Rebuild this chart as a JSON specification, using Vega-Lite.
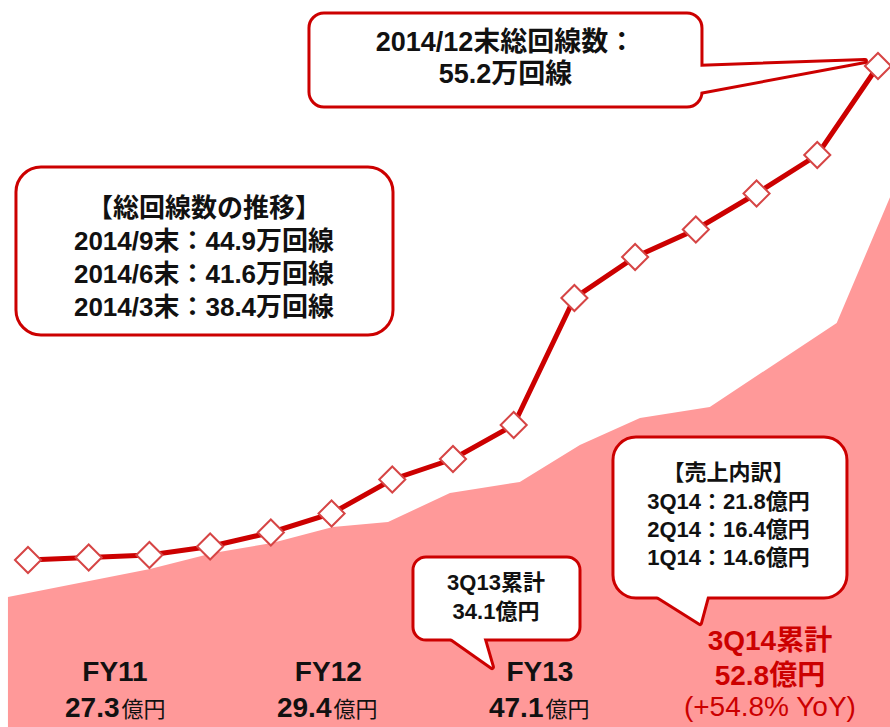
{
  "$schema": "https://vega.github.io/schema/vega-lite/v6.json",
  "width": 890,
  "height": 727,
  "autosize": {"type": "none"},
  "padding": 0,
  "background": "white",
  "config": {"view": {"stroke": null}, "text": {"font": "Liberation Sans, Noto Sans CJK JP"}},
  "datasets": {
    "lines": [
      {"x": 0, "y": 16.7}, {"x": 1, "y": 16.95}, {"x": 2, "y": 17.2}, {"x": 3, "y": 18.05},
      {"x": 4, "y": 19.45}, {"x": 5, "y": 21.35}, {"x": 6, "y": 24.75}, {"x": 7, "y": 26.8},
      {"x": 8, "y": 30.2}, {"x": 9, "y": 42.9}, {"x": 10, "y": 47.0}, {"x": 11, "y": 49.75},
      {"x": 12, "y": 53.35}, {"x": 13, "y": 57.2}, {"x": 14, "y": 66.1}
    ],
    "area": [
      {"x": -0.33, "y": 13.0}, {"x": 2.01, "y": 15.8}, {"x": 3.05, "y": 17.4}, {"x": 4.02, "y": 18.4},
      {"x": 5.02, "y": 20.0}, {"x": 5.93, "y": 20.5}, {"x": 6.95, "y": 23.4}, {"x": 8.10, "y": 24.5},
      {"x": 9.09, "y": 28.2}, {"x": 10.08, "y": 30.9}, {"x": 11.23, "y": 32.0}, {"x": 13.32, "y": 40.4},
      {"x": 14.2, "y": 53.0}
    ],
    "boxes": [
      {"box": "top", "x": 4.628, "x2": 11.101, "y": 71.4, "y2": 62.0},
      {"box": "left", "x": -0.198, "x2": 6.012, "y": 56.0, "y2": 39.2},
      {"box": "q13", "x": 6.341, "x2": 9.092, "y": 17.0, "y2": 8.7},
      {"box": "uri", "x": 9.635, "x2": 13.489, "y": 29.0, "y2": 12.9}
    ],
    "tails": [
      {"tail": "top", "ord": 1, "x": 10.97, "y": 66.0},
      {"tail": "top", "ord": 2, "x": 13.786, "y": 66.6},
      {"tail": "top", "ord": 3, "x": 10.97, "y": 63.4},
      {"tail": "q13", "ord": 1, "x": 6.80, "y": 9.6},
      {"tail": "q13", "ord": 2, "x": 7.642, "y": 6.0},
      {"tail": "q13", "ord": 3, "x": 7.47, "y": 9.6},
      {"tail": "uri", "ord": 1, "x": 10.23, "y": 13.6},
      {"tail": "uri", "ord": 2, "x": 11.068, "y": 10.4},
      {"tail": "uri", "ord": 3, "x": 11.21, "y": 13.6}
    ],
    "labels": [
      {"grp": "top", "x": 7.865, "y": 68.4, "text": "2014/12末総回線数："},
      {"grp": "top", "x": 7.865, "y": 65.2, "text": "55.2万回線"},
      {"grp": "left", "x": 2.899, "y": 51.8, "text": "【総回線数の推移】"},
      {"grp": "left", "x": 2.899, "y": 48.53, "text": "2014/9末：44.9万回線"},
      {"grp": "left", "x": 2.899, "y": 45.2, "text": "2014/6末：41.6万回線"},
      {"grp": "left", "x": 2.899, "y": 41.87, "text": "2014/3末：38.4万回線"},
      {"grp": "small", "x": 7.708, "y": 14.37, "text": "3Q13累計"},
      {"grp": "small", "x": 7.708, "y": 11.53, "text": "34.1億円"},
      {"grp": "small", "x": 11.538, "y": 25.37, "text": "【売上内訳】"},
      {"grp": "small", "x": 11.538, "y": 22.53, "text": "3Q14：21.8億円"},
      {"grp": "small", "x": 11.538, "y": 19.7, "text": "2Q14：16.4億円"},
      {"grp": "small", "x": 11.538, "y": 16.87, "text": "1Q14：14.6億円"},
      {"grp": "fy", "x": 1.433, "y": 5.4, "text": "FY11"},
      {"grp": "fy", "x": 4.947, "y": 5.4, "text": "FY12"},
      {"grp": "fy", "x": 8.433, "y": 5.4, "text": "FY13"},
      {"grp": "num", "x": 1.524, "y": 1.0, "text": "27.3"},
      {"grp": "num", "x": 5.015, "y": 1.0, "text": "29.4"},
      {"grp": "num", "x": 8.507, "y": 1.0, "text": "47.1"},
      {"grp": "unit", "x": 1.524, "y": 1.0, "text": "億円"},
      {"grp": "unit", "x": 5.015, "y": 1.0, "text": "億円"},
      {"grp": "unit", "x": 8.507, "y": 1.0, "text": "億円"},
      {"grp": "redb", "x": 12.22, "y": 8.5, "text": "3Q14累計"},
      {"grp": "redb", "x": 12.22, "y": 5.0, "text": "52.8億円"},
      {"grp": "redr", "x": 12.22, "y": 1.9, "text": "(+54.8% YoY)"}
    ]
  },
  "encoding": {
    "x": {"field": "x", "type": "quantitative", "scale": {"domain": [-0.461, 14.198], "nice": false, "zero": false}, "axis": null},
    "y": {"field": "y", "type": "quantitative", "scale": {"domain": [0, 72.7], "nice": false, "zero": false}, "axis": null}
  },
  "layer": [
    {"data": {"name": "area"}, "mark": {"type": "area", "color": "#FF9999", "opacity": 1, "clip": true}},
    {"data": {"name": "lines"}, "mark": {"type": "line", "color": "#CC0000", "strokeWidth": 5}},
    {"data": {"name": "lines"}, "mark": {"type": "point", "shape": "diamond", "filled": true, "fill": "white", "stroke": "#D64545", "strokeWidth": 2, "size": 680, "opacity": 1}},
    {"data": {"name": "tails"}, "mark": {"type": "line", "fill": "white", "stroke": "#CC0000", "strokeWidth": 6, "strokeJoin": "round"}, "encoding": {"detail": {"field": "tail"}, "order": {"field": "ord", "type": "quantitative"}}},
    {"data": {"name": "boxes"}, "transform": [{"filter": "datum.box == 'top'"}], "mark": {"type": "rect", "cornerRadius": 15, "fill": "white", "stroke": "#CC0000", "strokeWidth": 3}, "encoding": {"x2": {"field": "x2"}, "y2": {"field": "y2"}}},
    {"data": {"name": "boxes"}, "transform": [{"filter": "datum.box == 'left'"}], "mark": {"type": "rect", "cornerRadius": 25, "fill": "white", "stroke": "#CC0000", "strokeWidth": 3}, "encoding": {"x2": {"field": "x2"}, "y2": {"field": "y2"}}},
    {"data": {"name": "boxes"}, "transform": [{"filter": "datum.box == 'q13'"}], "mark": {"type": "rect", "cornerRadius": 13, "fill": "white", "stroke": "#CC0000", "strokeWidth": 3}, "encoding": {"x2": {"field": "x2"}, "y2": {"field": "y2"}}},
    {"data": {"name": "boxes"}, "transform": [{"filter": "datum.box == 'uri'"}], "mark": {"type": "rect", "cornerRadius": 23, "fill": "white", "stroke": "#CC0000", "strokeWidth": 3}, "encoding": {"x2": {"field": "x2"}, "y2": {"field": "y2"}}},
    {"data": {"name": "tails"}, "mark": {"type": "line", "fill": "white", "stroke": "white", "strokeWidth": 0, "strokeOpacity": 0}, "encoding": {"detail": {"field": "tail"}, "order": {"field": "ord", "type": "quantitative"}}},
    {"data": {"name": "labels"}, "transform": [{"filter": "datum.grp == 'top'"}], "mark": {"type": "text", "fontSize": 27, "fontWeight": "bold", "color": "#111111", "align": "center", "baseline": "middle"}, "encoding": {"text": {"field": "text"}}},
    {"data": {"name": "labels"}, "transform": [{"filter": "datum.grp == 'left'"}], "mark": {"type": "text", "fontSize": 26, "fontWeight": "bold", "color": "#111111", "align": "center", "baseline": "middle"}, "encoding": {"text": {"field": "text"}}},
    {"data": {"name": "labels"}, "transform": [{"filter": "datum.grp == 'small'"}], "mark": {"type": "text", "fontSize": 22, "fontWeight": "bold", "color": "#111111", "align": "center", "baseline": "middle"}, "encoding": {"text": {"field": "text"}}},
    {"data": {"name": "labels"}, "transform": [{"filter": "datum.grp == 'fy'"}], "mark": {"type": "text", "fontSize": 28, "fontWeight": "bold", "color": "#111111", "align": "center", "baseline": "middle"}, "encoding": {"text": {"field": "text"}}},
    {"data": {"name": "labels"}, "transform": [{"filter": "datum.grp == 'num'"}], "mark": {"type": "text", "fontSize": 28, "fontWeight": "bold", "color": "#111111", "align": "right", "baseline": "alphabetic", "dx": -1}, "encoding": {"text": {"field": "text"}}},
    {"data": {"name": "labels"}, "transform": [{"filter": "datum.grp == 'unit'"}], "mark": {"type": "text", "fontSize": 22, "fontWeight": "normal", "color": "#111111", "align": "left", "baseline": "alphabetic", "dx": 1}, "encoding": {"text": {"field": "text"}}},
    {"data": {"name": "labels"}, "transform": [{"filter": "datum.grp == 'redb'"}], "mark": {"type": "text", "fontSize": 28, "fontWeight": "bold", "color": "#CC0000", "align": "center", "baseline": "middle"}, "encoding": {"text": {"field": "text"}}},
    {"data": {"name": "labels"}, "transform": [{"filter": "datum.grp == 'redr'"}], "mark": {"type": "text", "fontSize": 28, "fontWeight": "normal", "color": "#CC0000", "align": "center", "baseline": "middle"}, "encoding": {"text": {"field": "text"}}}
  ]
}
